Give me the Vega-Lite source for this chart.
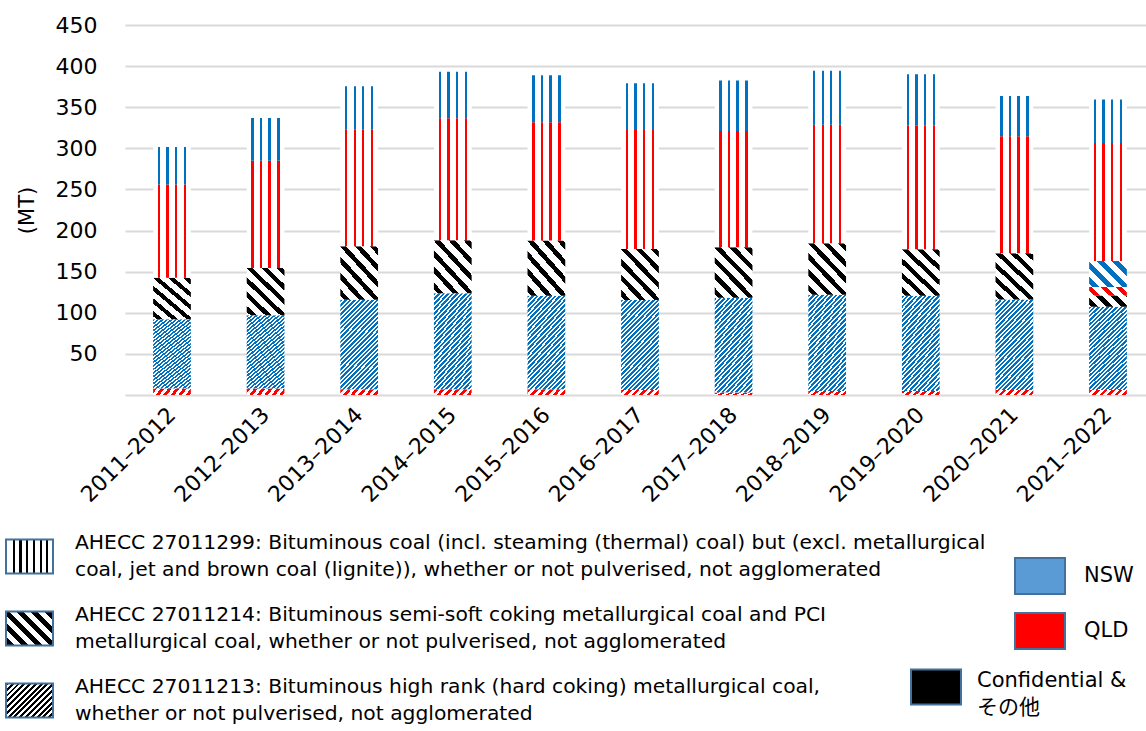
{
  "$schema": "https://vega.github.io/schema/vega-lite/v6.json",
  "width": 1021,
  "height": 370,
  "autosize": {"type": "none"},
  "padding": {"left": 125, "top": 25, "right": 0, "bottom": 336},
  "background": "white",
  "params": [
    {"name": "lg299", "value": {"gradient": "linear", "x1": 0, "y1": 0, "x2": 1, "y2": 0, "stops": [
      {"offset": 0, "color": "#fff"}, {"offset": 0.143, "color": "#fff"}, {"offset": 0.143, "color": "#000"}, {"offset": 0.188, "color": "#000"}, {"offset": 0.188, "color": "#fff"},
      {"offset": 0.286, "color": "#fff"}, {"offset": 0.286, "color": "#000"}, {"offset": 0.331, "color": "#000"}, {"offset": 0.331, "color": "#fff"},
      {"offset": 0.429, "color": "#fff"}, {"offset": 0.429, "color": "#000"}, {"offset": 0.474, "color": "#000"}, {"offset": 0.474, "color": "#fff"},
      {"offset": 0.571, "color": "#fff"}, {"offset": 0.571, "color": "#000"}, {"offset": 0.616, "color": "#000"}, {"offset": 0.616, "color": "#fff"},
      {"offset": 0.714, "color": "#fff"}, {"offset": 0.714, "color": "#000"}, {"offset": 0.759, "color": "#000"}, {"offset": 0.759, "color": "#fff"},
      {"offset": 0.857, "color": "#fff"}, {"offset": 0.857, "color": "#000"}, {"offset": 0.902, "color": "#000"}, {"offset": 0.902, "color": "#fff"},
      {"offset": 1, "color": "#fff"}]}},
    {"name": "lg214", "value": {"gradient": "linear", "x1": 0, "y1": 1, "x2": 1.131, "y2": 0.182, "stops": [
      {"offset": 0, "color": "#fff"}, {"offset": 0.03, "color": "#fff"}, {"offset": 0.03, "color": "#000"}, {"offset": 0.108, "color": "#000"}, {"offset": 0.108, "color": "#fff"},
      {"offset": 0.2028, "color": "#fff"}, {"offset": 0.2028, "color": "#000"}, {"offset": 0.2808, "color": "#000"}, {"offset": 0.2808, "color": "#fff"},
      {"offset": 0.3756, "color": "#fff"}, {"offset": 0.3756, "color": "#000"}, {"offset": 0.4536, "color": "#000"}, {"offset": 0.4536, "color": "#fff"},
      {"offset": 0.5484, "color": "#fff"}, {"offset": 0.5484, "color": "#000"}, {"offset": 0.6264, "color": "#000"}, {"offset": 0.6264, "color": "#fff"},
      {"offset": 0.7212, "color": "#fff"}, {"offset": 0.7212, "color": "#000"}, {"offset": 0.7992, "color": "#000"}, {"offset": 0.7992, "color": "#fff"},
      {"offset": 0.894, "color": "#fff"}, {"offset": 0.894, "color": "#000"}, {"offset": 0.972, "color": "#000"}, {"offset": 0.972, "color": "#fff"},
      {"offset": 1, "color": "#fff"}]}},
    {"name": "lg213", "value": {"gradient": "linear", "x1": 0, "y1": 0, "x2": 1.131, "y2": 0.818, "stops": [
      {"offset": 0, "color": "#000"}, {"offset": 0.0357, "color": "#000"}, {"offset": 0.0357, "color": "#fff"}, {"offset": 0.0714, "color": "#fff"},
      {"offset": 0.0714, "color": "#000"}, {"offset": 0.1071, "color": "#000"}, {"offset": 0.1071, "color": "#fff"}, {"offset": 0.1429, "color": "#fff"},
      {"offset": 0.1429, "color": "#000"}, {"offset": 0.1786, "color": "#000"}, {"offset": 0.1786, "color": "#fff"}, {"offset": 0.2143, "color": "#fff"},
      {"offset": 0.2143, "color": "#000"}, {"offset": 0.25, "color": "#000"}, {"offset": 0.25, "color": "#fff"}, {"offset": 0.2857, "color": "#fff"},
      {"offset": 0.2857, "color": "#000"}, {"offset": 0.3214, "color": "#000"}, {"offset": 0.3214, "color": "#fff"}, {"offset": 0.3571, "color": "#fff"},
      {"offset": 0.3571, "color": "#000"}, {"offset": 0.3929, "color": "#000"}, {"offset": 0.3929, "color": "#fff"}, {"offset": 0.4286, "color": "#fff"},
      {"offset": 0.4286, "color": "#000"}, {"offset": 0.4643, "color": "#000"}, {"offset": 0.4643, "color": "#fff"}, {"offset": 0.5, "color": "#fff"},
      {"offset": 0.5, "color": "#000"}, {"offset": 0.5357, "color": "#000"}, {"offset": 0.5357, "color": "#fff"}, {"offset": 0.5714, "color": "#fff"},
      {"offset": 0.5714, "color": "#000"}, {"offset": 0.6071, "color": "#000"}, {"offset": 0.6071, "color": "#fff"}, {"offset": 0.6429, "color": "#fff"},
      {"offset": 0.6429, "color": "#000"}, {"offset": 0.6786, "color": "#000"}, {"offset": 0.6786, "color": "#fff"}, {"offset": 0.7143, "color": "#fff"},
      {"offset": 0.7143, "color": "#000"}, {"offset": 0.75, "color": "#000"}, {"offset": 0.75, "color": "#fff"}, {"offset": 0.7857, "color": "#fff"},
      {"offset": 0.7857, "color": "#000"}, {"offset": 0.8214, "color": "#000"}, {"offset": 0.8214, "color": "#fff"}, {"offset": 0.8571, "color": "#fff"},
      {"offset": 0.8571, "color": "#000"}, {"offset": 0.8929, "color": "#000"}, {"offset": 0.8929, "color": "#fff"}, {"offset": 0.9286, "color": "#fff"},
      {"offset": 0.9286, "color": "#000"}, {"offset": 0.9643, "color": "#000"}, {"offset": 0.9643, "color": "#fff"}, {"offset": 1, "color": "#fff"}]}}
  ],
  "data": {"values": [
    {"year": "2011–2012", "code": "27011213", "state": "QLD", "value": 8},
    {"year": "2011–2012", "code": "27011213", "state": "NSW", "value": 84.2},
    {"year": "2011–2012", "code": "27011214", "state": "Confidential", "value": 50.5},
    {"year": "2011–2012", "code": "27011299", "state": "QLD", "value": 113.4},
    {"year": "2011–2012", "code": "27011299", "state": "NSW", "value": 45.5},
    {"year": "2012–2013", "code": "27011213", "state": "QLD", "value": 8},
    {"year": "2012–2013", "code": "27011213", "state": "NSW", "value": 89.1},
    {"year": "2012–2013", "code": "27011214", "state": "Confidential", "value": 57.3},
    {"year": "2012–2013", "code": "27011299", "state": "QLD", "value": 130.5},
    {"year": "2012–2013", "code": "27011299", "state": "NSW", "value": 52.1},
    {"year": "2013–2014", "code": "27011213", "state": "QLD", "value": 7},
    {"year": "2013–2014", "code": "27011213", "state": "NSW", "value": 108.8},
    {"year": "2013–2014", "code": "27011214", "state": "Confidential", "value": 65.1},
    {"year": "2013–2014", "code": "27011299", "state": "QLD", "value": 141.8},
    {"year": "2013–2014", "code": "27011299", "state": "NSW", "value": 52.9},
    {"year": "2014–2015", "code": "27011213", "state": "QLD", "value": 7},
    {"year": "2014–2015", "code": "27011213", "state": "NSW", "value": 116.9},
    {"year": "2014–2015", "code": "27011214", "state": "Confidential", "value": 64.3},
    {"year": "2014–2015", "code": "27011299", "state": "QLD", "value": 148.4},
    {"year": "2014–2015", "code": "27011299", "state": "NSW", "value": 56.4},
    {"year": "2015–2016", "code": "27011213", "state": "QLD", "value": 7},
    {"year": "2015–2016", "code": "27011213", "state": "NSW", "value": 113.7},
    {"year": "2015–2016", "code": "27011214", "state": "Confidential", "value": 67.1},
    {"year": "2015–2016", "code": "27011299", "state": "QLD", "value": 143.9},
    {"year": "2015–2016", "code": "27011299", "state": "NSW", "value": 57.3},
    {"year": "2016–2017", "code": "27011213", "state": "QLD", "value": 6},
    {"year": "2016–2017", "code": "27011213", "state": "NSW", "value": 109.4},
    {"year": "2016–2017", "code": "27011214", "state": "Confidential", "value": 62.2},
    {"year": "2016–2017", "code": "27011299", "state": "QLD", "value": 144.7},
    {"year": "2016–2017", "code": "27011299", "state": "NSW", "value": 57.0},
    {"year": "2017–2018", "code": "27011213", "state": "QLD", "value": 3},
    {"year": "2017–2018", "code": "27011213", "state": "NSW", "value": 115.3},
    {"year": "2017–2018", "code": "27011214", "state": "Confidential", "value": 61.3},
    {"year": "2017–2018", "code": "27011299", "state": "QLD", "value": 141.5},
    {"year": "2017–2018", "code": "27011299", "state": "NSW", "value": 61.3},
    {"year": "2018–2019", "code": "27011213", "state": "QLD", "value": 5},
    {"year": "2018–2019", "code": "27011213", "state": "NSW", "value": 116.9},
    {"year": "2018–2019", "code": "27011214", "state": "Confidential", "value": 62.6},
    {"year": "2018–2019", "code": "27011299", "state": "QLD", "value": 144.3},
    {"year": "2018–2019", "code": "27011299", "state": "NSW", "value": 65.5},
    {"year": "2019–2020", "code": "27011213", "state": "QLD", "value": 5},
    {"year": "2019–2020", "code": "27011213", "state": "NSW", "value": 115.7},
    {"year": "2019–2020", "code": "27011214", "state": "Confidential", "value": 56.5},
    {"year": "2019–2020", "code": "27011299", "state": "QLD", "value": 150.4},
    {"year": "2019–2020", "code": "27011299", "state": "NSW", "value": 62.6},
    {"year": "2020–2021", "code": "27011213", "state": "QLD", "value": 6},
    {"year": "2020–2021", "code": "27011213", "state": "NSW", "value": 110.2},
    {"year": "2020–2021", "code": "27011214", "state": "Confidential", "value": 56.1},
    {"year": "2020–2021", "code": "27011299", "state": "QLD", "value": 142.3},
    {"year": "2020–2021", "code": "27011299", "state": "NSW", "value": 49.2},
    {"year": "2021–2022", "code": "27011213", "state": "QLD", "value": 6},
    {"year": "2021–2022", "code": "27011213", "state": "NSW", "value": 101.3},
    {"year": "2021–2022", "code": "27011214", "state": "Confidential", "value": 13.8},
    {"year": "2021–2022", "code": "27011214", "state": "QLD", "value": 10.1},
    {"year": "2021–2022", "code": "27011214", "state": "NSW", "value": 31.8},
    {"year": "2021–2022", "code": "27011299", "state": "QLD", "value": 143.5},
    {"year": "2021–2022", "code": "27011299", "state": "NSW", "value": 52.8}
  ]},
  "transform": [{"stack": "value", "groupby": ["year"], "as": ["y0", "y1"]}],
  "encoding": {
    "x": {"field": "year", "type": "ordinal", "title": null,
      "scale": {"paddingInner": 0.597, "paddingOuter": 0.2525, "align": 0.595},
      "axis": {"domain": false, "ticks": false, "grid": false, "labelAngle": -45, "labelAlign": "right", "labelBaseline": "middle", "labelFontSize": 22, "labelPadding": 16, "labelColor": "#000", "labelFont": "DejaVu Sans"}},
    "y": {"field": "y0", "type": "quantitative", "title": "(MT)",
      "scale": {"domain": [0, 450], "nice": false},
      "axis": {"values": [0, 50, 100, 150, 200, 250, 300, 350, 400, 450], "labelExpr": "datum.value == 0 ? '' : datum.label", "domain": false, "ticks": false, "grid": true, "gridColor": "#D9D9D9", "gridWidth": 2, "labelFontSize": 22, "labelPadding": 28, "labelColor": "#000", "labelFont": "DejaVu Sans", "titleFontSize": 21, "titleFontWeight": "normal", "titleColor": "#000", "titleFont": "DejaVu Sans", "titlePadding": 18}},
    "y2": {"field": "y1"}
  },
  "layer": [
    {"transform": [{"filter": "datum.code == '27011213' && datum.state == 'QLD'"}],
     "mark": {"type": "bar", "fill": {"gradient": "linear", "x1": 0, "y1": 0, "x2": 1.113, "y2": 0.148, "stops": [
      {"offset": 0, "color": "#FF0000"}, {"offset": 0.0878, "color": "#FF0000"}, {"offset": 0.0878, "color": "#fff"}, {"offset": 0.1756, "color": "#fff"},
      {"offset": 0.1756, "color": "#FF0000"}, {"offset": 0.2634, "color": "#FF0000"}, {"offset": 0.2634, "color": "#fff"}, {"offset": 0.3512, "color": "#fff"},
      {"offset": 0.3512, "color": "#FF0000"}, {"offset": 0.439, "color": "#FF0000"}, {"offset": 0.439, "color": "#fff"}, {"offset": 0.5268, "color": "#fff"},
      {"offset": 0.5268, "color": "#FF0000"}, {"offset": 0.6146, "color": "#FF0000"}, {"offset": 0.6146, "color": "#fff"}, {"offset": 0.7024, "color": "#fff"},
      {"offset": 0.7024, "color": "#FF0000"}, {"offset": 0.7902, "color": "#FF0000"}, {"offset": 0.7902, "color": "#fff"}, {"offset": 0.878, "color": "#fff"},
      {"offset": 0.878, "color": "#FF0000"}, {"offset": 0.9658, "color": "#FF0000"}, {"offset": 0.9658, "color": "#fff"}, {"offset": 1, "color": "#fff"}]}}},
    {"transform": [{"filter": "datum.code == '27011213' && datum.state == 'NSW'"}],
     "mark": {"type": "bar", "fill": {"gradient": "linear", "x1": 0, "y1": 0, "x2": 0.517, "y2": 1.207, "stops": [
      {"offset": 0, "color": "#0070C0"}, {"offset": 0.0196, "color": "#0070C0"}, {"offset": 0.0196, "color": "#fff"}, {"offset": 0.0357, "color": "#fff"},
      {"offset": 0.0357, "color": "#0070C0"}, {"offset": 0.0554, "color": "#0070C0"}, {"offset": 0.0554, "color": "#fff"}, {"offset": 0.0714, "color": "#fff"},
      {"offset": 0.0714, "color": "#0070C0"}, {"offset": 0.0911, "color": "#0070C0"}, {"offset": 0.0911, "color": "#fff"}, {"offset": 0.1071, "color": "#fff"},
      {"offset": 0.1071, "color": "#0070C0"}, {"offset": 0.1268, "color": "#0070C0"}, {"offset": 0.1268, "color": "#fff"}, {"offset": 0.1429, "color": "#fff"},
      {"offset": 0.1429, "color": "#0070C0"}, {"offset": 0.1625, "color": "#0070C0"}, {"offset": 0.1625, "color": "#fff"}, {"offset": 0.1786, "color": "#fff"},
      {"offset": 0.1786, "color": "#0070C0"}, {"offset": 0.1982, "color": "#0070C0"}, {"offset": 0.1982, "color": "#fff"}, {"offset": 0.2143, "color": "#fff"},
      {"offset": 0.2143, "color": "#0070C0"}, {"offset": 0.2339, "color": "#0070C0"}, {"offset": 0.2339, "color": "#fff"}, {"offset": 0.25, "color": "#fff"},
      {"offset": 0.25, "color": "#0070C0"}, {"offset": 0.2696, "color": "#0070C0"}, {"offset": 0.2696, "color": "#fff"}, {"offset": 0.2857, "color": "#fff"},
      {"offset": 0.2857, "color": "#0070C0"}, {"offset": 0.3054, "color": "#0070C0"}, {"offset": 0.3054, "color": "#fff"}, {"offset": 0.3214, "color": "#fff"},
      {"offset": 0.3214, "color": "#0070C0"}, {"offset": 0.3411, "color": "#0070C0"}, {"offset": 0.3411, "color": "#fff"}, {"offset": 0.3571, "color": "#fff"},
      {"offset": 0.3571, "color": "#0070C0"}, {"offset": 0.3768, "color": "#0070C0"}, {"offset": 0.3768, "color": "#fff"}, {"offset": 0.3929, "color": "#fff"},
      {"offset": 0.3929, "color": "#0070C0"}, {"offset": 0.4125, "color": "#0070C0"}, {"offset": 0.4125, "color": "#fff"}, {"offset": 0.4286, "color": "#fff"},
      {"offset": 0.4286, "color": "#0070C0"}, {"offset": 0.4482, "color": "#0070C0"}, {"offset": 0.4482, "color": "#fff"}, {"offset": 0.4643, "color": "#fff"},
      {"offset": 0.4643, "color": "#0070C0"}, {"offset": 0.4839, "color": "#0070C0"}, {"offset": 0.4839, "color": "#fff"}, {"offset": 0.5, "color": "#fff"},
      {"offset": 0.5, "color": "#0070C0"}, {"offset": 0.5196, "color": "#0070C0"}, {"offset": 0.5196, "color": "#fff"}, {"offset": 0.5357, "color": "#fff"},
      {"offset": 0.5357, "color": "#0070C0"}, {"offset": 0.5554, "color": "#0070C0"}, {"offset": 0.5554, "color": "#fff"}, {"offset": 0.5714, "color": "#fff"},
      {"offset": 0.5714, "color": "#0070C0"}, {"offset": 0.5911, "color": "#0070C0"}, {"offset": 0.5911, "color": "#fff"}, {"offset": 0.6071, "color": "#fff"},
      {"offset": 0.6071, "color": "#0070C0"}, {"offset": 0.6268, "color": "#0070C0"}, {"offset": 0.6268, "color": "#fff"}, {"offset": 0.6429, "color": "#fff"},
      {"offset": 0.6429, "color": "#0070C0"}, {"offset": 0.6625, "color": "#0070C0"}, {"offset": 0.6625, "color": "#fff"}, {"offset": 0.6786, "color": "#fff"},
      {"offset": 0.6786, "color": "#0070C0"}, {"offset": 0.6982, "color": "#0070C0"}, {"offset": 0.6982, "color": "#fff"}, {"offset": 0.7143, "color": "#fff"},
      {"offset": 0.7143, "color": "#0070C0"}, {"offset": 0.7339, "color": "#0070C0"}, {"offset": 0.7339, "color": "#fff"}, {"offset": 0.75, "color": "#fff"},
      {"offset": 0.75, "color": "#0070C0"}, {"offset": 0.7696, "color": "#0070C0"}, {"offset": 0.7696, "color": "#fff"}, {"offset": 0.7857, "color": "#fff"},
      {"offset": 0.7857, "color": "#0070C0"}, {"offset": 0.8054, "color": "#0070C0"}, {"offset": 0.8054, "color": "#fff"}, {"offset": 0.8214, "color": "#fff"},
      {"offset": 0.8214, "color": "#0070C0"}, {"offset": 0.8411, "color": "#0070C0"}, {"offset": 0.8411, "color": "#fff"}, {"offset": 0.8571, "color": "#fff"},
      {"offset": 0.8571, "color": "#0070C0"}, {"offset": 0.8768, "color": "#0070C0"}, {"offset": 0.8768, "color": "#fff"}, {"offset": 0.8929, "color": "#fff"},
      {"offset": 0.8929, "color": "#0070C0"}, {"offset": 0.9125, "color": "#0070C0"}, {"offset": 0.9125, "color": "#fff"}, {"offset": 0.9286, "color": "#fff"},
      {"offset": 0.9286, "color": "#0070C0"}, {"offset": 0.9482, "color": "#0070C0"}, {"offset": 0.9482, "color": "#fff"}, {"offset": 0.9643, "color": "#fff"},
      {"offset": 0.9643, "color": "#0070C0"}, {"offset": 0.9839, "color": "#0070C0"}, {"offset": 0.9839, "color": "#fff"}, {"offset": 1, "color": "#fff"}]}}},
    {"transform": [{"filter": "datum.code == '27011214' && datum.state == 'Confidential' && datum.year != '2021–2022'"}],
     "mark": {"type": "bar", "fill": {"gradient": "linear", "x1": 0, "y1": 1, "x2": 0.855, "y2": -0.111, "stops": [
      {"offset": 0, "color": "#fff"}, {"offset": 0.04, "color": "#fff"}, {"offset": 0.04, "color": "#000"}, {"offset": 0.1127, "color": "#000"}, {"offset": 0.1127, "color": "#fff"},
      {"offset": 0.213, "color": "#fff"}, {"offset": 0.213, "color": "#000"}, {"offset": 0.2857, "color": "#000"}, {"offset": 0.2857, "color": "#fff"},
      {"offset": 0.386, "color": "#fff"}, {"offset": 0.386, "color": "#000"}, {"offset": 0.4587, "color": "#000"}, {"offset": 0.4587, "color": "#fff"},
      {"offset": 0.559, "color": "#fff"}, {"offset": 0.559, "color": "#000"}, {"offset": 0.6317, "color": "#000"}, {"offset": 0.6317, "color": "#fff"},
      {"offset": 0.732, "color": "#fff"}, {"offset": 0.732, "color": "#000"}, {"offset": 0.8047, "color": "#000"}, {"offset": 0.8047, "color": "#fff"},
      {"offset": 0.905, "color": "#fff"}, {"offset": 0.905, "color": "#000"}, {"offset": 0.9777, "color": "#000"}, {"offset": 0.9777, "color": "#fff"},
      {"offset": 1, "color": "#fff"}]}}},
    {"transform": [{"filter": "datum.code == '27011214' && datum.state == 'Confidential' && datum.year == '2021–2022'"}],
     "mark": {"type": "bar", "fill": {"gradient": "linear", "x1": 0, "y1": 1, "x2": 1.193, "y2": 0.639, "stops": [
      {"offset": 0, "color": "#fff"}, {"offset": 0.05, "color": "#fff"}, {"offset": 0.05, "color": "#000"}, {"offset": 0.1783, "color": "#000"}, {"offset": 0.1783, "color": "#fff"},
      {"offset": 0.3555, "color": "#fff"}, {"offset": 0.3555, "color": "#000"}, {"offset": 0.4838, "color": "#000"}, {"offset": 0.4838, "color": "#fff"},
      {"offset": 0.661, "color": "#fff"}, {"offset": 0.661, "color": "#000"}, {"offset": 0.7893, "color": "#000"}, {"offset": 0.7893, "color": "#fff"},
      {"offset": 0.9665, "color": "#fff"}, {"offset": 0.9665, "color": "#000"}, {"offset": 1, "color": "#000"}]}}},
    {"transform": [{"filter": "datum.code == '27011214' && datum.state == 'QLD'"}],
     "mark": {"type": "bar", "fill": {"gradient": "linear", "x1": 0, "y1": 1, "x2": 1.164, "y2": 0.744, "stops": [
      {"offset": 0, "color": "#fff"}, {"offset": 0.1, "color": "#fff"}, {"offset": 0.1, "color": "#FF0000"}, {"offset": 0.237, "color": "#FF0000"}, {"offset": 0.237, "color": "#fff"},
      {"offset": 0.426, "color": "#fff"}, {"offset": 0.426, "color": "#FF0000"}, {"offset": 0.563, "color": "#FF0000"}, {"offset": 0.563, "color": "#fff"},
      {"offset": 0.752, "color": "#fff"}, {"offset": 0.752, "color": "#FF0000"}, {"offset": 0.889, "color": "#FF0000"}, {"offset": 0.889, "color": "#fff"},
      {"offset": 1, "color": "#fff"}]}}},
    {"transform": [{"filter": "datum.code == '27011214' && datum.state == 'NSW'"}],
     "mark": {"type": "bar", "fill": {"gradient": "linear", "x1": 0, "y1": 1, "x2": 1.143, "y2": 0.206, "stops": [
      {"offset": 0, "color": "#fff"}, {"offset": 0.06, "color": "#fff"}, {"offset": 0.06, "color": "#0070C0"}, {"offset": 0.1586, "color": "#0070C0"}, {"offset": 0.1586, "color": "#fff"},
      {"offset": 0.2947, "color": "#fff"}, {"offset": 0.2947, "color": "#0070C0"}, {"offset": 0.3933, "color": "#0070C0"}, {"offset": 0.3933, "color": "#fff"},
      {"offset": 0.5294, "color": "#fff"}, {"offset": 0.5294, "color": "#0070C0"}, {"offset": 0.628, "color": "#0070C0"}, {"offset": 0.628, "color": "#fff"},
      {"offset": 0.7641, "color": "#fff"}, {"offset": 0.7641, "color": "#0070C0"}, {"offset": 0.8627, "color": "#0070C0"}, {"offset": 0.8627, "color": "#fff"},
      {"offset": 1, "color": "#fff"}]}}},
    {"transform": [{"filter": "datum.code == '27011299' && datum.state == 'QLD'"}],
     "mark": {"type": "bar", "fill": {"gradient": "linear", "x1": 0, "y1": 0, "x2": 1, "y2": 0, "stops": [
      {"offset": 0, "color": "#fff"}, {"offset": 0.125, "color": "#fff"}, {"offset": 0.125, "color": "#FF0000"}, {"offset": 0.186, "color": "#FF0000"}, {"offset": 0.186, "color": "#fff"},
      {"offset": 0.353, "color": "#fff"}, {"offset": 0.353, "color": "#FF0000"}, {"offset": 0.416, "color": "#FF0000"}, {"offset": 0.416, "color": "#fff"},
      {"offset": 0.576, "color": "#fff"}, {"offset": 0.576, "color": "#FF0000"}, {"offset": 0.637, "color": "#FF0000"}, {"offset": 0.637, "color": "#fff"},
      {"offset": 0.814, "color": "#fff"}, {"offset": 0.814, "color": "#FF0000"}, {"offset": 0.875, "color": "#FF0000"}, {"offset": 0.875, "color": "#fff"},
      {"offset": 1, "color": "#fff"}]}}},
    {"transform": [{"filter": "datum.code == '27011299' && datum.state == 'NSW'"}],
     "mark": {"type": "bar", "fill": {"gradient": "linear", "x1": 0, "y1": 0, "x2": 1, "y2": 0, "stops": [
      {"offset": 0, "color": "#fff"}, {"offset": 0.125, "color": "#fff"}, {"offset": 0.125, "color": "#0070C0"}, {"offset": 0.186, "color": "#0070C0"}, {"offset": 0.186, "color": "#fff"},
      {"offset": 0.353, "color": "#fff"}, {"offset": 0.353, "color": "#0070C0"}, {"offset": 0.416, "color": "#0070C0"}, {"offset": 0.416, "color": "#fff"},
      {"offset": 0.576, "color": "#fff"}, {"offset": 0.576, "color": "#0070C0"}, {"offset": 0.637, "color": "#0070C0"}, {"offset": 0.637, "color": "#fff"},
      {"offset": 0.814, "color": "#fff"}, {"offset": 0.814, "color": "#0070C0"}, {"offset": 0.875, "color": "#0070C0"}, {"offset": 0.875, "color": "#fff"},
      {"offset": 1, "color": "#fff"}]}}},
    {"transform": [{"filter": "false"}],
     "mark": {"type": "bar", "stroke": "#41719C", "strokeWidth": 2},
     "encoding": {"fill": {"field": "code", "type": "nominal",
       "scale": {"domain": ["27011299", "27011214", "27011213"], "range": [{"expr": "lg299"}, {"expr": "lg214"}, {"expr": "lg213"}]},
       "legend": {"orient": "none", "legendX": -120, "legendY": 507, "direction": "vertical", "title": null, "padding": 0,
         "symbolType": "M-1,-0.723H1V0.723H-1Z", "symbolSize": 2209, "symbolStrokeColor": "#41719C", "symbolStrokeWidth": 2, "symbolOpacity": 1,
         "labelOffset": 21, "labelFontSize": 20.3, "labelFont": "DejaVu Sans", "labelColor": "#000", "labelLimit": 2000, "rowPadding": 24, "labelBaseline": "line-bottom",
         "labelExpr": "datum.value == '27011299' ? ['AHECC 27011299: Bituminous coal (incl. steaming (thermal) coal) but (excl. metallurgical', 'coal, jet and brown coal (lignite)), whether or not pulverised, not agglomerated'] : datum.value == '27011214' ? ['AHECC 27011214: Bituminous semi-soft coking metallurgical coal and PCI', 'metallurgical coal, whether or not pulverised, not agglomerated'] : ['AHECC 27011213: Bituminous high rank (hard coking) metallurgical coal,', 'whether or not pulverised, not agglomerated']"}}}},
    {"transform": [{"filter": "false"}],
     "mark": {"type": "bar", "stroke": "#41719C", "strokeWidth": 2},
     "encoding": {"fill": {"field": "state", "type": "nominal",
       "scale": {"domain": ["NSW", "QLD"], "range": ["#5B9BD5", "#FF0000"]},
       "legend": {"orient": "none", "legendX": 889, "legendY": 525, "direction": "vertical", "title": null, "padding": 0,
         "symbolType": "M-1,-0.72H1V0.72H-1Z", "symbolSize": 2500, "symbolStrokeColor": "#41719C", "symbolStrokeWidth": 2, "symbolOpacity": 1,
         "labelOffset": 18, "labelFontSize": 21, "labelFont": "DejaVu Sans", "labelColor": "#000", "labelLimit": 2000, "rowPadding": 7}}}},
    {"transform": [{"filter": "false"}],
     "mark": {"type": "bar", "stroke": "#41719C", "strokeWidth": 2},
     "encoding": {"fill": {"field": "state", "type": "nominal",
       "scale": {"domain": ["Confidential"], "range": ["#000000"]},
       "legend": {"orient": "none", "legendX": 785, "legendY": 636, "direction": "vertical", "title": null, "padding": 0,
         "symbolType": "M-1,-0.7H1V0.7H-1Z", "symbolSize": 2500, "symbolStrokeColor": "#41719C", "symbolStrokeWidth": 2, "symbolOpacity": 1,
         "labelOffset": 15, "labelFontSize": 21, "labelFont": "DejaVu Sans, Noto Sans CJK JP", "labelColor": "#000", "labelLimit": 2000, "labelBaseline": "alphabetic",
         "labelExpr": "['Confidential &', 'その他']"}}}}
  ],
  "resolve": {"scale": {"fill": "independent"}, "legend": {"fill": "independent"}},
  "config": {
    "font": "DejaVu Sans",
    "view": {"stroke": null},
    "style": {"guide-label": {"lineHeight": 27}}
  }
}
